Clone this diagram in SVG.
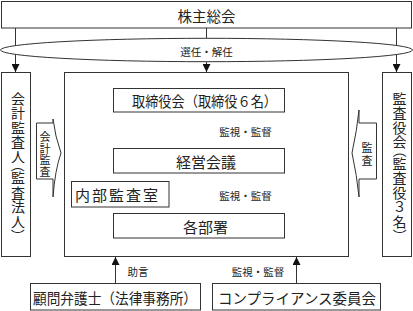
<svg xmlns="http://www.w3.org/2000/svg" width="413" height="311" viewBox="0 0 413 311">
<style>
.box{fill:#fff;stroke:#333;stroke-width:1}
.ln{fill:none;stroke:#333;stroke-width:1}
.t{font-family:"Noto Sans CJK JP","Noto Sans CJK SC",sans-serif;font-size:14.5px;fill:#222;text-anchor:middle;dominant-baseline:central}
.s{font-size:10.5px}
.v{font-family:"Noto Sans CJK JP","Noto Sans CJK SC",sans-serif;font-size:14px;fill:#222;text-anchor:start}
.vs{font-size:11px}
</style>
<defs>
<marker id="ah" viewBox="0 0 8 8" refX="8" refY="4" markerWidth="8" markerHeight="8" orient="auto" markerUnits="userSpaceOnUse">
<path d="M0,0 L8,4 L0,8 Z" fill="#111"/>
</marker>
</defs>
<g id="connectors">
<line class="ln" x1="15.5" y1="28" x2="15.5" y2="72" marker-end="url(#ah)"/>
<line class="ln" x1="206.5" y1="28" x2="206.5" y2="72" marker-end="url(#ah)"/>
<line class="ln" x1="396.5" y1="28" x2="396.5" y2="72" marker-end="url(#ah)"/>
<line class="ln" x1="206.5" y1="112" x2="206.5" y2="148" marker-end="url(#ah)"/>
<line class="ln" x1="206.5" y1="173" x2="206.5" y2="213" marker-end="url(#ah)"/>
<line class="ln" x1="169" y1="194.5" x2="206.5" y2="194.5"/>
<line class="ln" x1="115.5" y1="283" x2="115.5" y2="257" marker-end="url(#ah)"/>
<line class="ln" x1="296.5" y1="283" x2="296.5" y2="257" marker-end="url(#ah)"/>
</g>
<g id="shareholders">
<rect class="box" x="1.5" y="1.5" width="410" height="26.5"/>
<text class="t" x="206.5" y="15">株主総会</text>
</g>
<g id="appoint">
<ellipse class="box" cx="206.5" cy="50" rx="206" ry="11.7"/>
<text class="t s" x="206.5" y="51">選任・解任</text>
</g>
<g id="auditor">
<rect class="box" x="1.5" y="72.5" width="29" height="184"/>
<text class="v" x="11 11 11 11 11 13.1 11 11 11 11 13.1" y="103.6 118.1 132.6 147.1 161.6 158.2 183.1 197.6 212.1 226.6 228.8" rotate="0 0 0 0 0 90 0 0 0 0 90">会計監査人（監査法人）</text>
</g>
<g id="board-auditors">
<rect class="box" x="382.5" y="72.5" width="29" height="184"/>
<text class="v" x="392.5 392.5 392.5 392.5 394.6 392.5 392.5 392.5 392.5 392.5 394.6" y="103.6 118.1 132.6 147.1 143.7 168.6 183.1 197.6 212.1 226.6 228.8" rotate="0 0 0 0 90 0 0 0 0 0 90">監査役会（監査役３名）</text>
</g>
<g id="main">
<rect class="box" x="64.5" y="72.5" width="284" height="184"/>
</g>
<g id="audit-arrow-left">
<path class="ln" d="M36.5,123 H53 V119 Q55,136 61,153 Q55,170 53,197 V179 H36.5 Z" style="fill:#fff"/>
<text class="v vs" x="39.5 39.5 39.5 39.5" y="141.1 152.6 164.1 175.6">会計監査</text>
</g>
<g id="audit-arrow-right">
<path class="ln" d="M376.5,123 H359 V110 Q357,130 352,153 Q357,176 359,197 V179 H376.5 Z" style="fill:#fff"/>
<text class="v vs" x="361.5 361.5" y="152.1 164.6">監査</text>
</g>
<g id="board">
<rect class="box" x="113.5" y="88.5" width="171" height="23.5"/>
<text class="t" x="204.5" y="100.5" textLength="145" lengthAdjust="spacingAndGlyphs">取締役会（取締役６名）</text>
</g>
<g id="mgmt">
<rect class="box" x="113.5" y="148.5" width="171" height="24.5"/>
<text class="t" x="206" y="161" style="font-size:15px">経営会議</text>
</g>
<g id="internal-audit">
<rect class="box" x="71.5" y="181.5" width="97.5" height="25.5"/>
<text class="t" x="116.5" y="194.5" style="font-size:15px" textLength="83">内部監査室</text>
</g>
<g id="depts">
<rect class="box" x="113.5" y="213.5" width="171" height="24.5"/>
<text class="t" x="205.5" y="226" style="font-size:15px">各部署</text>
</g>
<text class="t s" x="245.5" y="131.5">監視・監督</text>
<text class="t s" x="245.5" y="195">監視・監督</text>
<text class="t s" x="138" y="271">助言</text>
<text class="t s" x="258" y="271">監視・監督</text>
<g id="lawyer">
<rect class="box" x="30.5" y="283.5" width="170" height="26.5"/>
<text class="t" x="115" y="297" textLength="164" lengthAdjust="spacingAndGlyphs">顧問弁護士（法律事務所）</text>
</g>
<g id="compliance">
<rect class="box" x="212.5" y="283.5" width="168" height="26.5"/>
<text class="t" x="297" y="297">コンプライアンス委員会</text>
</g>
</svg>
